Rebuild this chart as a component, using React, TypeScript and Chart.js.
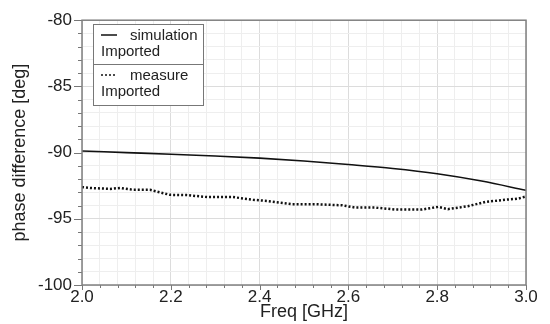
import React, { useEffect, useRef } from "react";
import { Chart, registerables } from "chart.js";

Chart.register(...registerables);

const simFreq = [2.0, 2.1, 2.2, 2.3, 2.4, 2.5, 2.6, 2.7, 2.8, 2.9, 3.0];
const simPhase = [-89.88, -90.0, -90.12, -90.26, -90.42, -90.63, -90.9, -91.2, -91.6, -92.15, -92.85];

const measFreq = [
  2.0, 2.018, 2.063, 2.086, 2.115, 2.153, 2.198, 2.236, 2.282, 2.34, 2.385, 2.417, 2.435, 2.473,
  2.525, 2.586, 2.615, 2.66, 2.705, 2.766, 2.802, 2.824, 2.869, 2.908, 2.953, 2.982, 3.0,
];
const measPhase = [
  -92.61, -92.67, -92.74, -92.67, -92.81, -92.81, -93.19, -93.21, -93.36, -93.36, -93.56, -93.65,
  -93.73, -93.9, -93.9, -93.98, -94.15, -94.15, -94.3, -94.3, -94.1, -94.27, -94.05, -93.73,
  -93.56, -93.48, -93.31,
];

const xMin = 2.0;
const xMax = 3.0;
const yMin = -100;
const yMax = -80;

const legendEntries = [
  { name: "simulation", sub: "Imported", dash: [] as number[] },
  { name: "measure", sub: "Imported", dash: [2, 2] },
];

const FONT = "'Liberation Sans', Arial, sans-serif";

const isMult = (v: number, s: number) => Math.abs(v / s - Math.round(v / s)) < 1e-6;

const framePlugin = {
  id: "frame",
  afterDatasetsDraw(chart: any) {
    const { ctx, chartArea: a, scales } = chart;
    ctx.save();
    // ticks
    ctx.strokeStyle = "#777";
    ctx.lineWidth = 1;
    const ys = scales.y;
    for (let v = yMin; v <= yMax + 1e-9; v += 1) {
      const y = Math.round(ys.getPixelForValue(v)) + 0.5;
      const len = isMult(v, 5) ? 8 : 4;
      ctx.beginPath();
      ctx.moveTo(a.left - len, y);
      ctx.lineTo(a.left, y);
      ctx.stroke();
    }
    const xs = scales.x;
    for (let i = 0; i <= 25; i++) {
      const v = xMin + i * 0.04;
      const x = Math.round(xs.getPixelForValue(v)) + 0.5;
      const len = isMult(v, 0.2) ? 5 : 3;
      ctx.beginPath();
      ctx.moveTo(x, a.bottom);
      ctx.lineTo(x, a.bottom + len);
      ctx.stroke();
    }
    // frame
    ctx.strokeStyle = "#808080";
    ctx.lineWidth = 1.5;
    ctx.strokeRect(a.left, a.top, a.right - a.left, a.bottom - a.top);

    // legend
    const lx = 93, ly = 24, lw = 110, lh = 81, div = 64;
    ctx.fillStyle = "#fff";
    ctx.fillRect(lx, ly, lw, lh);
    ctx.strokeStyle = "#777";
    ctx.lineWidth = 1;
    ctx.strokeRect(lx + 0.5, ly + 0.5, lw, lh);
    ctx.beginPath();
    ctx.moveTo(lx, div + 0.5);
    ctx.lineTo(lx + lw, div + 0.5);
    ctx.stroke();
    ctx.font = `15px ${FONT}`;
    ctx.fillStyle = "#222";
    ctx.textBaseline = "alphabetic";
    ctx.textAlign = "left";
    legendEntries.forEach((e, i) => {
      const base = ly + i * 40;
      ctx.strokeStyle = "#111";
      ctx.lineWidth = 1.5;
      ctx.setLineDash(e.dash);
      ctx.beginPath();
      ctx.moveTo(101, base + 11);
      ctx.lineTo(117, base + 11);
      ctx.stroke();
      ctx.setLineDash([]);
      ctx.fillText(e.name, 130, base + 16);
      ctx.fillText(e.sub, 101, base + 32);
    });
    ctx.restore();
  },
};

export default function App() {
  const ref = useRef<HTMLCanvasElement>(null);
  useEffect(() => {
    document.body.style.margin = "0";
    const chart = new Chart(ref.current!, {
      type: "scatter",
      data: {
        datasets: [
          {
            label: "simulation",
            data: simFreq.map((f, i) => ({ x: f, y: simPhase[i] })),
            showLine: true,
            borderColor: "#111",
            borderWidth: 1.6,
            pointRadius: 0,
            cubicInterpolationMode: "monotone",
          },
          {
            label: "measure",
            data: measFreq.map((f, i) => ({ x: f, y: measPhase[i] })),
            showLine: true,
            borderColor: "#111",
            borderWidth: 2.5,
            borderDash: [2, 2],
            pointRadius: 0,
            tension: 0,
          },
        ],
      },
      plugins: [framePlugin],
      options: {
        animation: false,
        responsive: false,
        maintainAspectRatio: false,
        layout: { padding: { top: 15, right: 24, bottom: 0, left: 0 } },
        plugins: { legend: { display: false }, tooltip: { enabled: false } },
        scales: {
          x: {
            type: "linear",
            min: xMin,
            max: xMax,
            afterFit: (s: any) => {
              s.height = 39;
            },
            border: { display: false },
            grid: {
              drawTicks: false,
              color: (c: any) => (isMult(c.tick.value, 0.2) ? "#dcdcdc" : "#eeeeee"),
            },
            ticks: {
              stepSize: 0.04,
              autoSkip: false,
              maxRotation: 0,
              padding: 2,
              color: "#222",
              font: { family: FONT, size: 17 },
              callback: (v: any) => (isMult(Number(v), 0.2) ? Number(v).toFixed(1) : ""),
            },
            title: {
              display: true,
              text: "Freq [GHz]",
              color: "#222",
              font: { family: FONT, size: 18 },
              padding: { top: 0, bottom: 1 },
            },
          },
          y: {
            type: "linear",
            min: yMin,
            max: yMax,
            afterFit: (s: any) => {
              s.width = 82;
            },
            border: { display: false },
            grid: {
              drawTicks: false,
              color: (c: any) => (isMult(c.tick.value, 5) ? "#dcdcdc" : "#eeeeee"),
            },
            ticks: {
              stepSize: 1,
              autoSkip: false,
              padding: 10,
              color: "#222",
              font: { family: FONT, size: 17 },
              callback: (v: any) => (isMult(Number(v), 5) ? String(Number(v)) : ""),
            },
            title: {
              display: true,
              text: "phase difference [deg]",
              color: "#222",
              font: { family: FONT, size: 18 },
              padding: { top: 9, bottom: 0 },
            },
          },
        },
      },
    });
    return () => chart.destroy();
  }, []);
  return (
    <div style={{ width: 550, height: 324 }}>
      <canvas ref={ref} width={550} height={324} style={{ display: "block" }} />
    </div>
  );
}
